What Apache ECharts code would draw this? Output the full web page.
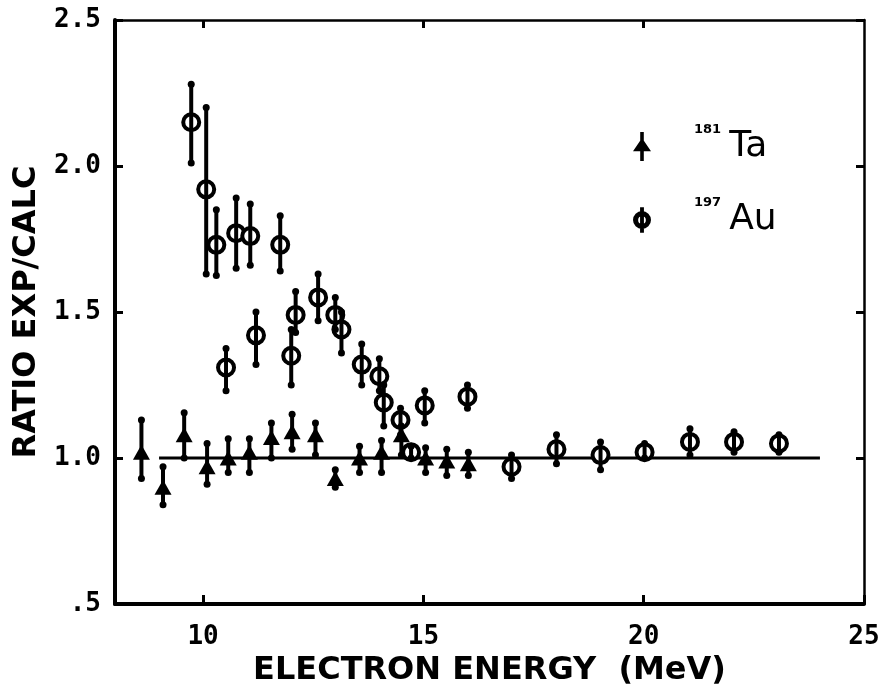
<!DOCTYPE html>
<html>
<head>
<meta charset="utf-8">
<script src="https://cdn.jsdelivr.net/npm/echarts@6/dist/echarts.min.js"></script>
<style>
html,body{margin:0;padding:0;background:#fff;}
#chart{width:879px;height:687px;}
</style>
</head>
<body>
<div id="chart"></div>
<script>
// ---- data ----
const auX    = [9.73, 10.07, 10.3, 10.75, 11.07, 11.75, 10.52, 11.2, 12.0, 12.1, 12.61, 13.0, 13.14, 13.6, 14.0, 14.1, 14.48, 14.72, 15.03, 16.0, 17.0, 18.02, 19.02, 20.02, 21.05, 22.05, 23.07];
const auY    = [2.15, 1.92, 1.73, 1.77, 1.76, 1.73, 1.31, 1.42, 1.35, 1.49, 1.55, 1.49, 1.44, 1.32, 1.28, 1.19, 1.13, 1.02, 1.18, 1.21, 0.97, 1.03, 1.01, 1.02, 1.055, 1.055, 1.05];
const auLow  = [2.01, 1.63, 1.625, 1.65, 1.66, 1.64, 1.23, 1.32, 1.25, 1.43, 1.47, 1.44, 1.36, 1.25, 1.23, 1.11, 1.08, 1.0, 1.12, 1.17, 0.93, 0.98, 0.96, 1.0, 1.01, 1.02, 1.02];
const auHigh = [2.28, 2.20, 1.85, 1.89, 1.87, 1.83, 1.375, 1.50, 1.44, 1.57, 1.63, 1.55, 1.50, 1.39, 1.34, 1.25, 1.17, 1.04, 1.23, 1.25, 1.01, 1.08, 1.055, 1.05, 1.10, 1.09, 1.08];

const taX    = [8.6, 9.09, 9.57, 10.09, 10.57, 11.05, 11.55, 12.02, 12.55, 13.0, 13.55, 14.05, 14.5, 15.05, 15.53, 16.02];
const taY    = [1.02, 0.90, 1.08, 0.97, 1.0, 1.02, 1.07, 1.09, 1.08, 0.93, 1.0, 1.02, 1.08, 1.0, 0.99, 0.98];
const taLow  = [0.93, 0.84, 1.0, 0.91, 0.95, 0.95, 1.0, 1.03, 1.01, 0.90, 0.95, 0.95, 1.01, 0.95, 0.94, 0.94];
const taHigh = [1.13, 0.97, 1.155, 1.05, 1.066, 1.066, 1.12, 1.15, 1.12, 0.96, 1.04, 1.06, 1.11, 1.035, 1.03, 1.02];

const refLineX = [9, 24];
const refLineY = [1, 1];

const xTicks = [10, 15, 20, 25];
const xTopTicks = [10, 15, 20];

// ---- build ----
const zip = (a, b) => a.map((v, i) => [v, b[i]]);
const zip3 = (a, b, c) => a.map((v, i) => [v, b[i], c[i]]);

function renderErr(params, api) {
  const x = api.value(0), lo = api.value(1), hi = api.value(2);
  const p1 = api.coord([x, hi]);
  const p2 = api.coord([x, lo]);
  return {
    type: 'group',
    children: [
      {type: 'line', shape: {x1: p1[0], y1: p1[1], x2: p2[0], y2: p2[1]}, style: {stroke: '#000', lineWidth: 4}},
      {type: 'circle', shape: {cx: p1[0], cy: p1[1], r: 3.5}, style: {fill: '#000'}},
      {type: 'circle', shape: {cx: p2[0], cy: p2[1], r: 3.5}, style: {fill: '#000'}}
    ]
  };
}

const tickFont = {color: '#000', fontSize: 26, fontWeight: 'bold', fontFamily: 'DejaVu Sans Mono'};
const xTitleFont = {color: '#000', fontSize: 32, fontWeight: 'bold', fontFamily: 'DejaVu Sans'};
const yTitleFont = {color: '#000', fontSize: 32, fontWeight: 'bold', fontFamily: 'DejaVu Sans'};

const taIcon = 'path://M6,0 L9,0 L9,24 L6,24 Z M0,16 L7.5,5 L15,16 Z';
const auIcon = 'path://M7.5,3 A7,7 0 1,1 7.5,17 A7,7 0 1,1 7.5,3 Z M7.5,7 A3,3 0 1,0 7.5,13 A3,3 0 1,0 7.5,7 Z M6,0 L9,0 L9,20 L6,20 Z';
const legendIconStyle = {color: '#000', borderWidth: 0};

const chart = echarts.init(document.getElementById('chart'));
chart.setOption({
  animation: false,
  backgroundColor: '#fff',
  grid: {left: 115, right: 15, top: 20, bottom: 83, outerBoundsMode: 'none', containLabel: false},
  legend: {
    orient: 'vertical',
    left: 628,
    top: 118,
    itemWidth: 18,
    itemHeight: 30,
    itemGap: 32,
    selectedMode: false,
    data: [
      {name: 'Ta', icon: taIcon, itemStyle: legendIconStyle},
      {name: 'Au', icon: auIcon, itemStyle: legendIconStyle}
    ],
    formatter: n => n === 'Ta' ? '{s|181}{e|Ta}' : '{s|197}{e|Au}',
    textStyle: {
      color: '#000',
      rich: {
        s: {fontSize: 13, fontWeight: 'bold', fontFamily: 'DejaVu Sans', color: '#000', padding: [0, 8, 34, 38]},
        e: {fontSize: 36, fontFamily: 'DejaVu Sans', color: '#000'}
      }
    }
  },
  xAxis: [
    {
      type: 'value', min: 8, max: 25, position: 'bottom',
      axisLine: {show: true, onZero: false, lineStyle: {color: '#000', width: 4}},
      axisTick: {show: true, inside: true, length: 9, customValues: xTicks, lineStyle: {color: '#000', width: 3}},
      axisLabel: {customValues: xTicks, margin: 20, ...tickFont},
      splitLine: {show: false},
      name: 'ELECTRON ENERGY  (MeV)', nameLocation: 'middle', nameGap: 46,
      nameTextStyle: xTitleFont
    },
    {
      type: 'value', min: 8, max: 25, position: 'top',
      axisLine: {show: true, onZero: false, lineStyle: {color: '#000', width: 2.5}},
      axisTick: {show: true, inside: true, length: 8, customValues: xTopTicks, lineStyle: {color: '#000', width: 3}},
      axisLabel: {show: false},
      splitLine: {show: false}
    }
  ],
  yAxis: [
    {
      type: 'value', min: 0.5, max: 2.5, interval: 0.5, position: 'left',
      axisLine: {show: true, onZero: false, lineStyle: {color: '#000', width: 4}},
      axisTick: {show: true, inside: true, length: 8, lineStyle: {color: '#000', width: 3}},
      axisLabel: {margin: 14, formatter: v => (Math.abs(v - 0.5) < 1e-9 ? '.5' : v.toFixed(1)), ...tickFont},
      splitLine: {show: false},
      name: 'RATIO EXP/CALC', nameLocation: 'middle', nameGap: 68,
      nameTextStyle: yTitleFont
    },
    {
      type: 'value', min: 0.5, max: 2.5, interval: 0.5, position: 'right',
      axisLine: {show: true, onZero: false, lineStyle: {color: '#000', width: 2.5}},
      axisTick: {show: true, inside: true, length: 8, lineStyle: {color: '#000', width: 3}},
      axisLabel: {show: false},
      splitLine: {show: false}
    }
  ],
  series: [
    {
      type: 'line', data: zip(refLineX, refLineY), symbol: 'none',
      lineStyle: {color: '#000', width: 3}, z: 1, silent: true
    },
    {
      name: 'Au', type: 'scatter', data: zip(auX, auY), symbol: 'circle', symbolSize: 16,
      itemStyle: {color: '#fff', borderColor: '#000', borderWidth: 4, opacity: 1}, z: 2
    },
    {
      name: 'Ta', type: 'scatter', data: zip(taX, taY), symbol: 'triangle', symbolSize: [17, 15],
      itemStyle: {color: '#000', opacity: 1}, z: 2
    },
    {
      type: 'custom', renderItem: renderErr, data: zip3(auX, auLow, auHigh), z: 4, silent: true
    },
    {
      type: 'custom', renderItem: renderErr, data: zip3(taX, taLow, taHigh), z: 4, silent: true
    }
  ]
});
</script>
</body>
</html>
